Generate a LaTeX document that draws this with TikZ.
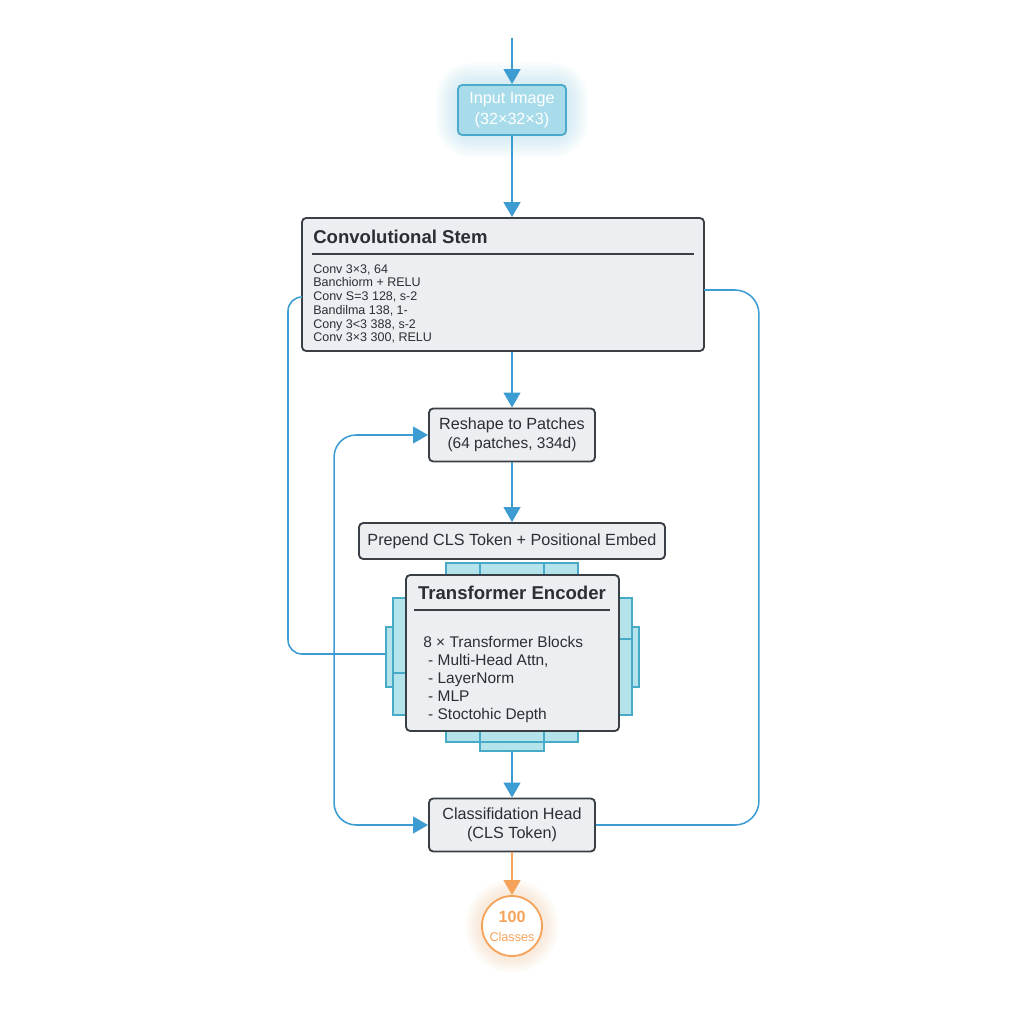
\documentclass[tikz,border=0pt]{standalone}
\usepackage{fontspec}
\setmainfont{Liberation Sans}
\usetikzlibrary{positioning,calc,arrows.meta,backgrounds}
\definecolor{flowblue}{HTML}{3D9CD2}
\definecolor{boxfill}{HTML}{ECEEF1}
\definecolor{boxline}{HTML}{3A3F45}
\definecolor{inkgray}{HTML}{2B2F33}
\definecolor{inputfill}{HTML}{A8DCEA}
\definecolor{inputline}{HTML}{4BAACB}
\definecolor{platefill}{HTML}{B5E3EC}
\definecolor{plateline}{HTML}{47AAC6}
\definecolor{outorange}{HTML}{F5A35A}

\begin{document}
\begin{tikzpicture}[x=0.025cm,y=-0.025cm,
  >={Triangle[length=0.375cm,width=0.42cm]},
  box/.style={draw=boxline,line width=1.3pt,fill=boxfill,rounded corners=3pt,inner sep=2pt,text=inkgray,align=center,font=\fontsize{11.5}{13.6}\selectfont},
  flow/.style={draw=flowblue,line width=1.3pt,->},
  feedback/.style={draw=flowblue,line width=1.1pt,rounded corners=0.55cm},
  plate/.style={draw=plateline,line width=0.8pt,fill=platefill},
  title/.style={inner sep=0pt,text=inkgray,font=\bfseries\fontsize{13.2}{15}\selectfont},
  sectionrule/.style={draw=boxline,line width=1pt},
  body/.style={anchor=north west,inner sep=0pt,align=left,text=inkgray}]
\useasboundingbox (0,0) rectangle (1024,1024);

\node[box,draw=inputline,fill=inputfill,text=white,minimum width=2.7cm,minimum height=1.25cm,font=\fontsize{11.5}{15}\selectfont] (input) at (512,110) {Input Image\\(32×32×3)};
\coordinate (top) at (512,38);

\node[box,minimum width=10.05cm,minimum height=3.325cm] (stem) at (503,284.5) {};
\node[title,anchor=west] (stemtitle) at (313,237) {Convolutional Stem};
\draw[sectionrule] (312,254) -- (694,254);
\node[body,font=\fontsize{8.9}{9.8}\selectfont] (stembody) at (313,264)
  {Conv 3×3, 64\\Banchiorm + RELU\\Conv S=3 128, s-2\\Bandilma 138, 1-\\Cony 3<3 388, s-2\\Conv 3×3 300, RELU};

\node[box,minimum width=4.15cm,minimum height=1.325cm] (reshape) at (512,435) {Reshape to Patches\\{\fontsize{11}{13}\selectfont(64 patches, 334d)}};
\node[box,minimum width=7.65cm,minimum height=0.9cm] (prepend) at (512,541) {Prepend CLS Token + Positional Embed};

\foreach \xa/\ya/\xb/\yb in {446/563/578/575,446/731/578/742,480/742/544/751,393/598/406/715,386/627/393/687,619/598/632/715,632/627/639/687}
  \draw[plate] (\xa,\ya) rectangle (\xb,\yb);
\foreach \x in {480,544} {
  \draw[plate] (\x,563) -- (\x,575);
  \draw[plate] (\x,731) -- (\x,742);
}
\draw[plate] (393,673) -- (406,673);
\draw[plate] (619,639) -- (632,639);

\node[box,minimum width=5.325cm,minimum height=3.9cm] (encoder) at (512.5,653) {};
\node[title] (enctitle) at (512,593) {Transformer Encoder};
\draw[sectionrule] (414,610) -- (610,610);
\node[body,font=\fontsize{11}{12.8}\selectfont] (encbody) at (423,636)
  {8 × Transformer Blocks\\\hspace*{3.5pt}- Multi-Head Attn,\\\hspace*{3.5pt}- LayerNorm\\\hspace*{3.5pt}- MLP\\\hspace*{3.5pt}- Stoctohic Depth};
\coordinate (encout) at (512,751);

\node[box,minimum width=4.15cm,minimum height=1.325cm] (classhead) at (512,825) {Classifidation Head\\(CLS Token)};
\node[circle,draw=outorange,line width=1.3pt,fill=white,minimum size=1.5cm,inner sep=0pt,text=outorange,align=center,font=\fontsize{9}{13.5}\selectfont] (classes) at (512,926) {{\bfseries\fontsize{11.5}{13.5}\selectfont 100}\\Classes};

\draw[flow] (top) -- (input);
\draw[flow] (input) -- (input.south |- stem.north);
\draw[flow] (reshape.north |- stem.south) -- (reshape);
\draw[flow] (reshape) -- (prepend);
\draw[flow] (encout) -- (classhead);
\draw[flow,draw=outorange] (classhead) -- (classes);

\coordinate (stemL) at (302,297);
\coordinate (stemR) at (704,290);
\coordinate (encL) at (386,654);
\draw[feedback,rounded corners=0.35cm] (stemL) -| ($(encL)+(-98,0)$) -- (encL);
\draw[feedback,rounded corners=0.6cm] (stemR) -| ($(classhead.east)+(163,0)$) -- (classhead.east);
\draw[feedback,<->] (reshape.west) -- ++(-94,0) |- (classhead.west);

\begin{scope}[on background layer]
\fill[white] (0,0) rectangle (1024,1024);
\foreach \w in {3,6,...,30}
  \draw[inputfill,opacity=0.05,line width=\w pt,rounded corners=10pt] (input.south west) rectangle (input.north east);
\foreach \w in {3,6,...,24}
  \draw[outorange!60,opacity=0.05,line width=\w pt] (classes) circle (0.75cm);
\end{scope}
\end{tikzpicture}
\end{document}
